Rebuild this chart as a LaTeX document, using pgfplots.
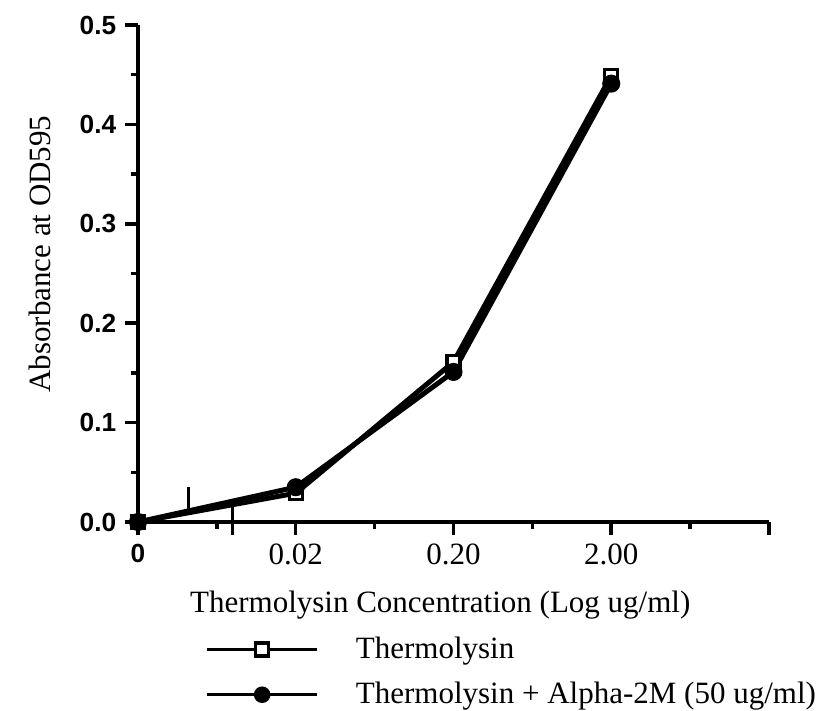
\documentclass[border=0pt]{standalone}
\usepackage{fontspec}
\setmainfont{Liberation Serif}
\setsansfont{Liberation Sans}
\usepackage{pgfplots}
\pgfplotsset{compat=1.18}
\begin{document}
\begin{tikzpicture}
\path[use as bounding box] (-55.2pt,-75.2pt) rectangle (271.6pt,208.8pt);
\begin{axis}[
  at={(0,0)}, anchor=south west,
  width=252.4pt, height=198.8pt, scale only axis,
  xmin=0, xmax=4, ymin=0, ymax=0.5,
  axis x line*=bottom, axis y line*=left,
  axis line style={line width=1.5pt, -},
  clip=false,
  tick align=outside,
  major tick length=5.2pt, minor tick length=2.8pt,
  every tick/.style={black, line width=1.4pt},
  xtick={0,1,2,3,4},
  xticklabels={{\sffamily\bfseries\fontsize{10.5}{12}\selectfont 0},0.02,0.20,2.00,{}},
  minor xtick={0.5,1.5,2.5,3.5},
  ytick={0,0.1,0.2,0.3,0.4,0.5},
  yticklabels={0.0,0.1,0.2,0.3,0.4,0.5},
  minor ytick={0.05,0.15,0.25,0.35,0.45},
  yticklabel style={font=\sffamily\bfseries\fontsize{10.5}{12}\selectfont},
  xticklabel style={font=\fontsize{12.4}{14}\selectfont},
  xlabel={Thermolysin Concentration (Log ug/ml)},
  xlabel style={at={(axis description cs:0.479,-0.167)}, anchor=center, font=\fontsize{12.4}{14}\selectfont},
  ylabel={Absorbance at OD595},
  ylabel style={at={(axis description cs:-0.155,0.539)}, anchor=center, font=\fontsize{12.4}{14}\selectfont},
  legend image code/.code={\draw[#1, line width=1.4pt, mark repeat=2, mark phase=2] plot coordinates {(0pt,0pt)(22pt,0pt)(44pt,0pt)};},
  legend style={at={(axis description cs:0.106,-0.22)}, anchor=north west, draw=none, fill=none,
    font=\fontsize{12.4}{14}\selectfont, row sep=4pt, column sep=12.8pt, inner sep=0pt},
  legend cell align=left,
]
% Thermolysin
\addplot[black, line width=2pt, mark=square*, mark size=2.6pt,
  mark options={fill=white, line width=1.3pt, solid}]
  coordinates {(0,0) (1,0.029) (2,0.161) (3,0.449)};
% Thermolysin + Alpha-2M
\addplot[black, line width=2pt, mark=*, mark size=2.6pt]
  coordinates {(0,0) (1,0.035) (2,0.151) (3,0.441)};

% axis break marks
\draw[line width=1.4pt] (axis cs:0.32,0.007) -- (axis cs:0.32,0.035);
\draw[line width=1.4pt] (axis cs:0.60,-0.013) -- (axis cs:0.60,0.017);

\legend{Thermolysin, Thermolysin + Alpha-2M (50 ug/ml)}
\end{axis}
\end{tikzpicture}
\end{document}
